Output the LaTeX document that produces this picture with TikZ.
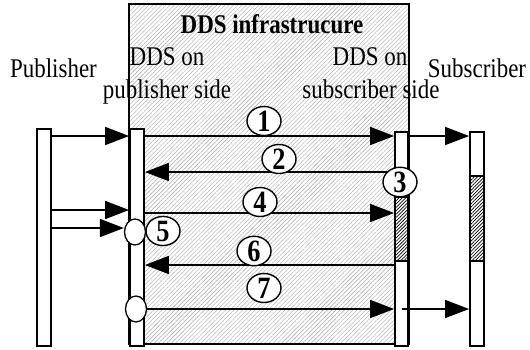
\documentclass[tikz,border=0pt]{standalone}
\usepackage{fontspec}
\setmainfont{Liberation Serif}[FakeStretch=0.85]
\usetikzlibrary{arrows.meta,patterns.meta,shapes.geometric}
\begin{document}
\begin{tikzpicture}[x=1pt,y=-1pt,
  lbl/.style={font=\fontsize{27}{30}\selectfont, inner sep=0pt, anchor=base},
  ttl/.style={font=\bfseries\fontsize{27}{30}\selectfont, inner sep=0pt, anchor=base},
  bar/.style={rectangle, draw, line width=1.8pt, fill=white, minimum width=14pt, inner sep=0pt},
  num/.style={ellipse, draw, fill=white, line width=1.4pt, minimum width=34pt, minimum height=29pt, inner sep=0pt, font=\bfseries\fontsize{31}{30}\selectfont},
  hole/.style={ellipse, draw, fill=white, line width=1.3pt, minimum width=21pt, minimum height=26pt, inner sep=0pt},
  arr/.style={line width=1.6pt, -{Triangle[length=24pt,width=18pt]}},
  hatch/.style={pattern={Lines[angle=45,distance=2.4pt,line width=0.7pt]}, pattern color=black},
  boxhatch/.style={pattern={Lines[angle=45,distance=3pt,line width=0.4pt]}, pattern color=gray!70}
]
\useasboundingbox (0,0) rectangle (530,349);

% infrastructure box
\fill[white] (129,4) rectangle (409,344);
\draw[boxhatch, line width=2pt] (129,4) rectangle (409,344);

% bars
\node[bar, minimum height=217pt] (pub)  at (44,237.5) {};
\node[bar, minimum height=217pt] (dpub) at (137,237.5) {};
\node[bar, minimum width=13pt, minimum height=214pt] (dsub) at (401.5,239) {};
\node[bar, minimum height=214pt] (sub)  at (477,239) {};

% hatched parts
\draw[hatch, line width=1.8pt] (395,197) rectangle (408,261);
\draw[hatch, line width=1.8pt] (470,176) rectangle (484,261);

% texts
\node[ttl] (title) at (272,33) {DDS infrastrucure};
\node[lbl] (tpub) at (53.5,77) {Publisher};
\node[lbl] (tdp1) at (167,65) {DDS on};
\node[lbl] (tdp2) at (167,98) {publisher side};
\node[lbl] (tds1) at (370,65) {DDS on};
\node[lbl] (tds2) at (371,98) {subscriber side};
\node[lbl] (tsub) at (477,77) {Subscriber};

% holes on publisher-side bar
\node[hole] (e1) at (135,232) {};
\node[hole] (e2) at (136,309) {};

% arrows
\draw[arr] (pub.east|-0,136) -- (dpub.west|-0,136);
\draw[arr] (dpub.east|-0,136) -- (dsub.west|-0,136);
\draw[arr] (dsub.east|-0,136) -- (sub.west|-0,136);
\draw[arr] (dsub.west|-0,172) -- (dpub.east|-0,172);
\draw[arr] (dpub.east|-0,213) -- (dsub.west|-0,213);
\draw[arr] (pub.east|-0,210) -- (dpub.west|-0,210);
\draw[arr] (pub.east|-0,228) -- (e1.west|-0,228);
\draw[arr] (dsub.west|-0,265) -- (dpub.east|-0,265);
\draw[arr] (e2.east) -- (dsub.west|-e2.east);
\draw[arr] (dsub.center|-e2.east) -- (sub.west|-e2.east);

% numbered labels
\node[num] (n1) at (264,121) {1};
\node[num] (n2) at (279,159) {2};
\node[num] (n3) at (400,182) {3};
\node[num] (n4) at (260,202) {4};
\node[num] (n5) at (163,231) {5};
\node[num] (n6) at (254,251) {6};
\node[num] (n7) at (264,288) {7};
\end{tikzpicture}
\end{document}
